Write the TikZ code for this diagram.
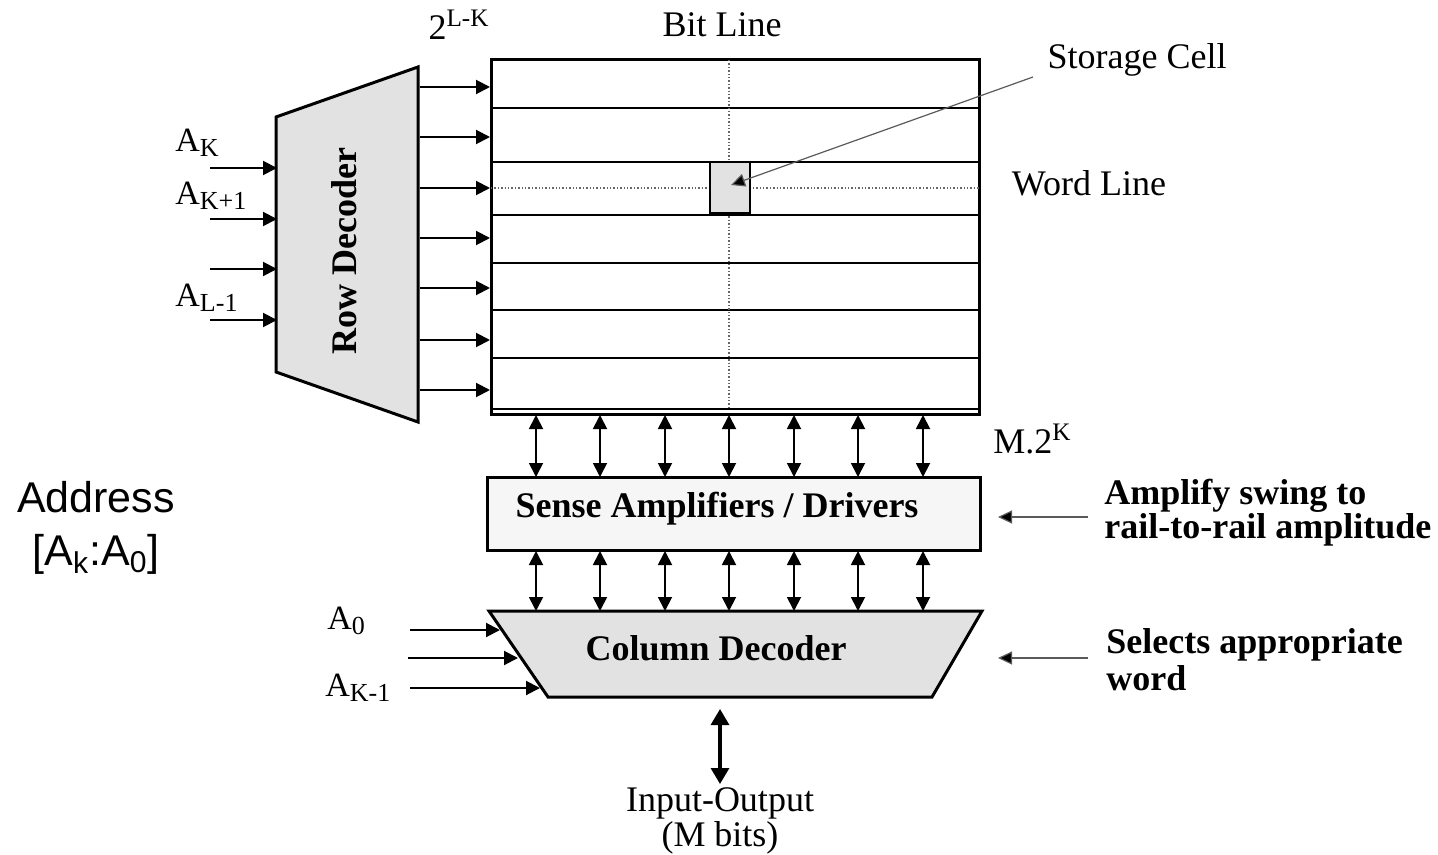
\documentclass[tikz,border=0pt]{standalone}
\usepackage{fontspec}
\setmainfont{Liberation Serif}
\newfontfamily\arialfont{Liberation Sans}
\usetikzlibrary{arrows.meta}
\definecolor{boxgray}{RGB}{226,226,226}
\definecolor{lightbox}{RGB}{246,246,246}
\definecolor{thingray}{RGB}{90,90,90}
\tikzset{
  thickbox/.style={line width=1.5pt, draw=black},
  rowline/.style={line width=1pt},
  arr/.style={line width=1pt, -{Triangle[length=7pt,width=7pt]}},
  darr/.style={line width=0.9pt, {Triangle[length=7pt,width=7pt]}-{Triangle[length=7pt,width=7pt]}},
  grayarr/.style={line width=0.6pt, draw=thingray, -{Triangle[length=7pt,width=6.5pt,fill=black]}},
  dotline/.style={line width=0.7pt, draw=gray!80!black, densely dotted},
  lbl/.style={font=\fontsize{18}{20}\selectfont, inner sep=0pt},
  blbl/.style={font=\bfseries\fontsize{18}{17}\selectfont, inner sep=0pt},
  albl/.style={font=\fontsize{17}{18}\selectfont, inner sep=0pt, anchor=west},
}
\newcommand{\mysub}[1]{\raisebox{-0.35ex}{\fontsize{13}{14}\selectfont #1}}
\begin{document}
\begin{tikzpicture}[x=0.5pt,y=-0.5pt]
\useasboundingbox (0,0) rectangle (1438,855);

% ---------- Row decoder ----------
\draw[thickbox, fill=boxgray] (276,117) -- (418,67) -- (418,422) -- (276,372) -- cycle;
\node[blbl, rotate=90] (rowdec) at (344,251) {Row Decoder};

% ---------- Memory array ----------
\node[thickbox, fill=white, minimum width=244pt, minimum height=177pt, inner sep=0pt] (array) at (735,237) {};
\foreach \y in {108,162,215,263,310,358,409}
  \draw[rowline] (491,\y) -- (979,\y);
\coordinate (wlL) at (491,188);
\coordinate (wlR) at (979,188);
\coordinate (blT) at (729,60);
\coordinate (blB) at (729,409);
\draw[dotline] (wlL) -- (wlR);
\draw[dotline] (blT) -- (blB);
\node[draw=black, line width=1pt, fill=boxgray, minimum width=20pt, minimum height=25.5pt, inner sep=0pt] (cell) at (730,187.5) {};
\coordinate (cellpt) at (731,185);

% word line arrows
\foreach \y [count=\i] in {87,137,188,238,288,340,390} {
  \coordinate (rdo\i) at (420,\y);
  \coordinate (wli\i) at (490,\y);
  \draw[arr] (rdo\i) -- (wli\i);
}

% row decoder inputs
\foreach \y [count=\i] in {168,219,269,320} {
  \coordinate (ain\i) at (210,\y);
  \coordinate (rdi\i) at (277,\y);
  \draw[arr] (ain\i) -- (rdi\i);
}
\node[albl] (ak) at (175,143) {A\mysub{K}};
\node[albl] (ak1) at (175,196) {A\mysub{K+1}};
\node[albl] (al1) at (175,298) {A\mysub{L-1}};

% top labels
\node[lbl] (twolk) at (459,25) {2\textsuperscript{L-K}};
\node[lbl] (bitline) at (722,25) {Bit Line};
\node[lbl] (storage) at (1137,60) {Storage Cell};
\coordinate (storagept) at (1033,77);
\draw[grayarr] (storagept) -- (cellpt);
\node[lbl] (wordline) at (1089,183) {Word Line};
\node[lbl, anchor=west] (m2k) at (993,439) {M.2\textsuperscript{K}};

% ---------- Sense amplifiers ----------
\node[thickbox, fill=lightbox, minimum width=246.5pt, minimum height=36.5pt, inner sep=0pt] (sense) at (733.5,513.5) {};
\node[blbl] (sensetxt) at (717,509) {Sense Amplifiers / Drivers};

\foreach \x [count=\i] in {536,600,665,729,794,858,923} {
  \coordinate (at\i) at (\x,415);
  \coordinate (st\i) at (\x,477);
  \coordinate (sb\i) at (\x,551);
  \coordinate (ct\i) at (\x,611);
  \draw[darr] (at\i) -- (st\i);
  \draw[darr] (sb\i) -- (ct\i);
}

% ---------- Column decoder ----------
\draw[thickbox, fill=boxgray] (489,611) -- (982,611) -- (932,697) -- (548,697) -- cycle;
\node[blbl] (coldec) at (716,648) {Column Decoder};

\coordinate (c0s) at (410,630);  \coordinate (c0e) at (500,630);
\coordinate (c1s) at (408,658);  \coordinate (c1e) at (518,658);
\coordinate (c2s) at (410,688);  \coordinate (c2e) at (540,688);
\draw[arr] (c0s) -- (c0e);
\draw[arr] (c1s) -- (c1e);
\draw[arr] (c2s) -- (c2e);
\node[albl] (a0) at (327,621) {A\mysub{0}};
\node[albl] (akm1) at (325,688) {A\mysub{K-1}};

% ---------- Right annotations ----------
\coordinate (amps) at (1088,517); \coordinate (ampe) at (998,517);
\coordinate (sels) at (1088,658); \coordinate (sele) at (998,658);
\draw[grayarr] (amps) -- (ampe);
\draw[grayarr] (sels) -- (sele);
\node[blbl, anchor=west, align=left] (amptxt) at (1104,513) {Amplify swing to\\rail-to-rail amplitude};
\node[blbl, anchor=west, align=left, font=\bfseries\fontsize{18}{18.5}\selectfont] (seltxt) at (1106,660) {Selects appropriate\\word};

% ---------- Input / Output ----------
\coordinate (iot) at (720,709);
\coordinate (iob) at (720,784);
\draw[line width=1.6pt, {Triangle[length=8pt,width=9pt]}-{Triangle[length=8pt,width=9pt]}] (iot) -- (iob);
\node[lbl, align=center, font=\fontsize{18}{15}\selectfont] (io) at (720,821) {Input-Output\\(M bits)};

% ---------- Address ----------
\node[inner sep=0pt, align=center, font=\arialfont\fontsize{21.5}{26.5}\selectfont] (addr) at (96,528) {Address\\[0pt][A\textsubscript{k}:A\textsubscript{0}]};
\end{tikzpicture}
\end{document}
